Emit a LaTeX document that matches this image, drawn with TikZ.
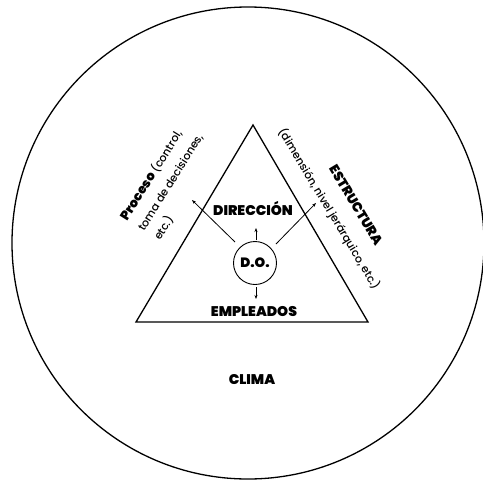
\documentclass[tikz,border=0pt]{standalone}
\usepackage{fontspec}
\setmainfont{Poppins}[UprightFont=* Medium, BoldFont=* Black]
\usetikzlibrary{arrows.meta,calc}
\begin{document}
\begin{tikzpicture}[x=1pt,y=-1pt,
  lbl/.style={font=\bfseries\fontsize{14}{16}\selectfont, inner sep=0pt},
  side/.style={font=\fontsize{11}{12}\selectfont, inner sep=0pt},
  sidebf/.style={font=\bfseries\fontsize{13.5}{14}\selectfont, inner sep=0pt},
  arr/.style={line width=0.8pt, -{Stealth[length=4pt,width=3pt]}},
  shp/.style={line width=1.3pt}]
\useasboundingbox (0,0) rectangle (483,483);
\fill[white] (0,0) rectangle (483,483);
% outer climate circle
\node[shp, draw, circle, minimum size=472pt, inner sep=0pt] (clima) at (248,243) {};
% triangle
\coordinate (apex) at (253,125);
\coordinate (bl) at (136,322);
\coordinate (br) at (368,322);
\draw[shp, line join=miter] (apex) -- (bl) -- (br) -- cycle;
% D.O.
\node[draw, circle, line width=0.9pt, minimum size=43pt, inner sep=0pt,
      font=\bfseries\fontsize{13.5}{15}\selectfont] (do) at (255,263) {D.O.};
\node[lbl] (dir) at (253,208) {DIRECCIÓN};
\node[lbl] (emp) at (254,312) {EMPLEADOS};
\node[lbl] (clm) at (252,380) {CLIMA};
% arrow ends
\coordinate (s1) at (235,242);
\coordinate (s2) at (276,244);
\coordinate (s3) at (256,240);
\coordinate (s4) at (256,287);
\coordinate (tl) at (192,200);
\coordinate (tr) at (316,203);
\coordinate (tu) at (256,228);
\coordinate (td) at (256,299);
\draw[arr] (s1) -- (tl);
\draw[arr] (s2) -- (tr);
\draw[arr] (s3) -- (tu);
\draw[arr] (s4) -- (td);
% Proceso text
\node[side, rotate=58, anchor=base west] (p1) at (127,222) {\textbf{\fontsize{13}{14}\selectfont Proceso} (control,};
\node[side, rotate=58, anchor=base west] (p2) at (144,232) {toma de decisiones,};
\node[side, rotate=58, anchor=base west] (p3) at (160,241) {etc.)};
% Estructura text
\node[sidebf, rotate=-59] (e1) at (356,205) {ESTRUCTURA};
\node[side, rotate=-59] (e2) at (329,209) {(dimensión, nivel jerárquico, etc.)};
\end{tikzpicture}
\end{document}
